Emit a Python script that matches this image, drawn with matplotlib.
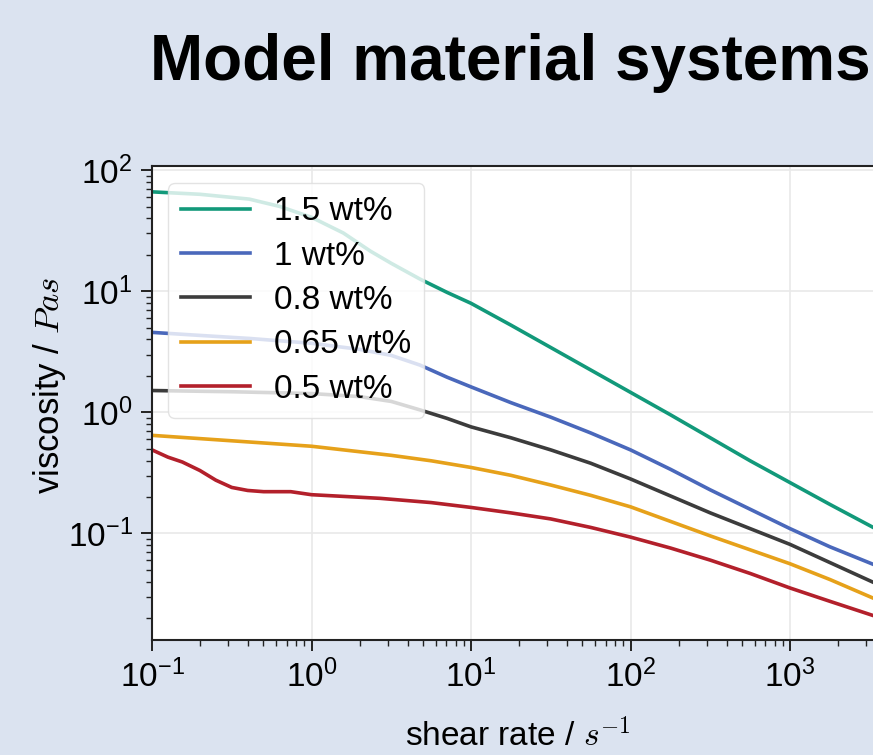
import numpy as np
import matplotlib
matplotlib.use("Agg")
import matplotlib.pyplot as plt
from matplotlib.ticker import LogLocator, NullFormatter

plt.rcParams['font.family'] = ['Liberation Sans', 'DejaVu Sans']
plt.rcParams['mathtext.fontset'] = 'cm'

title = "Model material systems"
xlabel = "shear rate / $s^{-1}$"
ylabel = "viscosity / $Pas$"

labels = ["1.5 wt%", "1 wt%", "0.8 wt%", "0.65 wt%", "0.5 wt%"]
colors = ["#12997a", "#4a68bb", "#3c3c3c", "#e6a11a", "#b3202b"]

# log10(shear rate) and log10(viscosity)
lx_green = [-1.0, -0.7, -0.39, -0.2, 0.0, 0.2, 0.37, 0.5, 0.68, 0.85, 1.0, 1.25, 1.5, 1.75,
            2.0, 2.25, 2.5, 2.75, 3.0, 3.25, 3.55]
ly_green = [1.82, 1.80, 1.76, 1.70, 1.61, 1.48, 1.33, 1.23, 1.10, 0.99, 0.90, 0.72, 0.535, 0.35,
            0.165, -0.02, -0.21, -0.40, -0.58, -0.76, -0.97]

lx_blue = [-1.0, -0.7, -0.39, 0.0, 0.3, 0.5, 0.68, 0.85, 1.0, 1.25, 1.5, 1.75, 2.0, 2.25,
           2.5, 2.75, 3.0, 3.25, 3.55]
ly_blue = [0.66, 0.635, 0.61, 0.57, 0.52, 0.47, 0.39, 0.29, 0.21, 0.08, -0.04, -0.17, -0.31, -0.47,
           -0.64, -0.80, -0.96, -1.11, -1.27]

lx_black = [-1.0, -0.5, 0.0, 0.3, 0.5, 0.68, 0.85, 1.0, 1.25, 1.5, 1.75, 2.0, 2.25, 2.5,
            2.75, 3.0, 3.25, 3.55]
ly_black = [0.18, 0.17, 0.155, 0.13, 0.09, 0.02, -0.05, -0.12, -0.21, -0.31, -0.42, -0.55, -0.69, -0.83,
            -0.96, -1.09, -1.24, -1.42]

lx_orange = [-1.0, -0.5, 0.0, 0.5, 0.75, 1.0, 1.25, 1.5, 1.75, 2.0, 2.25, 2.5, 2.75, 3.0,
             3.25, 3.55]
ly_orange = [-0.19, -0.235, -0.28, -0.355, -0.40, -0.455, -0.52, -0.60, -0.685, -0.78, -0.90, -1.02,
             -1.135, -1.25, -1.38, -1.55]

lx_red = [-1.0, -0.9, -0.81, -0.7, -0.6, -0.5, -0.4, -0.3, -0.13, 0.0, 0.43, 0.75, 1.0, 1.25,
          1.5, 1.75, 2.0, 2.25, 2.5, 2.75, 3.0, 3.25, 3.55]
ly_red = [-0.31, -0.37, -0.41, -0.48, -0.56, -0.62, -0.645, -0.655, -0.655, -0.68, -0.71, -0.745,
          -0.785, -0.83, -0.88, -0.95, -1.03, -1.12, -1.22, -1.33, -1.45, -1.56, -1.69]

series = [(lx_green, ly_green), (lx_blue, ly_blue), (lx_black, ly_black),
          (lx_orange, ly_orange), (lx_red, ly_red)]

bg = "#dbe3f0"
px_per_decade = 159.5
xmax = 9e3
ax_w = px_per_decade * np.log10(xmax / 0.1)

fig = plt.figure(figsize=(8.73, 7.55), dpi=100, facecolor=bg)
ax = fig.add_axes([152/873, 1 - 640/755, ax_w/873, (640 - 166)/755])
ax.set_facecolor("white")

for (lx, ly), lab, c in zip(series, labels, colors):
    ax.plot(10**np.array(lx), 10**np.array(ly), color=c, lw=2.6, label=lab,
            solid_joinstyle="round")

ax.set_xscale("log")
ax.set_yscale("log")
ax.set_xlim(0.1, xmax)
ax.set_ylim(0.0132, 108)

ax.grid(True, which="major", color="#e9e9e9", lw=1.2)
ax.set_axisbelow(True)
for s in ax.spines.values():
    s.set_color("#222222")
    s.set_linewidth(1.5)

ax.xaxis.set_minor_locator(LogLocator(base=10, subs=np.arange(2, 10), numticks=20))
ax.yaxis.set_minor_locator(LogLocator(base=10, subs=np.arange(2, 10), numticks=20))
ax.xaxis.set_minor_formatter(NullFormatter())
ax.yaxis.set_minor_formatter(NullFormatter())
ax.tick_params(which="major", direction="out", length=8, width=1.4, colors="#222222",
               labelsize=24, labelcolor="black", pad=6)
ax.tick_params(which="minor", direction="out", length=4, width=1.0, colors="#222222")

ax.set_xlabel(xlabel, fontsize=24)
ax.set_ylabel(ylabel, fontsize=25)
ax.xaxis.set_label_coords((518 - 152) / ax_w, -0.165)
ax.yaxis.set_label_coords(-(152 - 68) / ax_w, (640 - 385) / 474)

leg = ax.legend(loc="upper left", bbox_to_anchor=((168 - 152) / ax_w, (640 - 183) / 474),
                borderaxespad=0, fontsize=24,
                frameon=True, framealpha=0.8, edgecolor="#dddddd",
                handlelength=2.05, handletextpad=0.72, labelspacing=0.4,
                borderpad=0.4)
for line in leg.get_lines():
    line.set_linewidth(2.6)

fig.text(150/873, 1 - 80/755, title, fontsize=46, fontweight="bold",
         ha="left", va="baseline", color="black")

fig.savefig("out.png", dpi=100, facecolor=bg)
